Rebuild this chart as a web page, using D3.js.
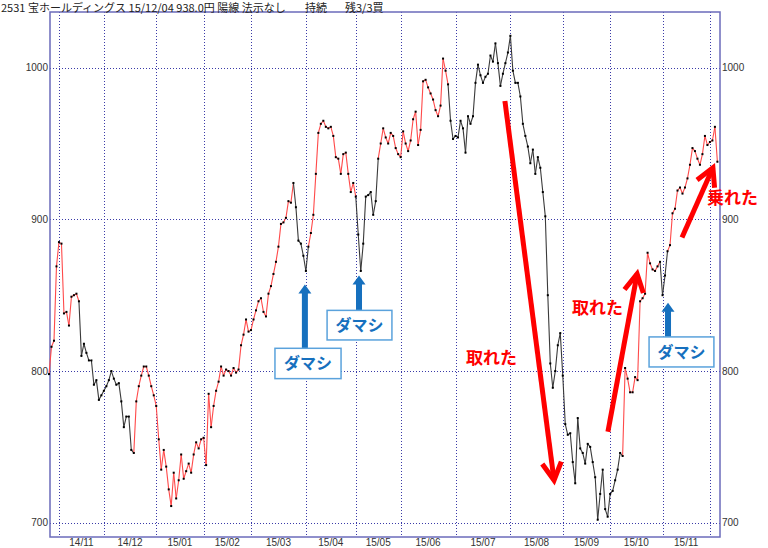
<!DOCTYPE html>
<html>
<head>
<meta charset="utf-8">
<script src="https://cdn.jsdelivr.net/npm/d3@7"></script>
<style>
  html, body { margin: 0; padding: 0; background: #fff; }
  svg { display: block; }
</style>
</head>
<body>
<svg id="chart" width="768" height="548"></svg>
<script>
// ---- Data (daily closes, 2014/10/28 .. 2015/12/04) ----
const closes = [
  798, 816, 820, 869, 885, 884, 838, 839, 830, 849,
  850, 851, 846, 810, 818, 812, 807, 807, 791, 794,
  781, 784, 787, 790, 794, 800, 795, 791, 792, 780,
  763, 770, 770, 748, 746, 780, 790, 797, 803, 803,
  797, 790, 784, 777, 755, 735, 748, 737, 722, 711,
  733, 716, 728, 745, 729, 734, 739, 733, 745, 753,
  749, 755, 756, 738, 785, 763, 777, 787, 793, 803,
  797, 801, 800, 797, 802, 799, 801, 817, 824, 834,
  826, 827, 834, 840, 846, 848, 839, 836, 851, 856,
  864, 872, 882, 897, 898, 901, 912, 911, 924, 908,
  886, 884, 876, 866, 882, 891, 903, 930, 957, 963,
  965, 961, 960, 961, 955, 941, 940, 930, 943, 944,
  930, 918, 924, 915, 890, 866, 884, 915, 916, 918,
  903, 912, 940, 950, 960, 954, 950, 957, 955, 947,
  943, 941, 958, 950, 945, 952, 966, 971, 949, 959,
  991, 992, 987, 983, 979, 972, 968, 975, 1006, 998,
  989, 965, 953, 955, 954, 965, 960, 944, 968, 963,
  968, 990, 1002, 995, 990, 994, 996, 1008, 1004, 1016,
  1003, 988, 996, 1003, 1010, 1021, 998, 990, 990, 981,
  963, 955, 948, 937, 946, 930, 941, 934, 918, 902,
  850, 805, 789, 800, 817, 825, 797, 765, 758, 759,
  740, 726, 769, 749, 746, 739, 752, 750, 740, 730,
  702, 719, 735, 709, 704, 719, 721, 728, 735, 746,
  744, 802, 795, 786, 786, 796, 794, 846, 848, 851,
  878, 871, 867, 866, 869, 872, 850, 863, 879, 883,
  904, 907, 919, 921, 917, 921, 927, 936, 947, 945,
  940, 936, 943, 955, 949, 951, 952, 961, 938
];
// index of first trading day of each month (gridlines)
const monthStarts = [4, 22, 43, 62, 81, 103, 123, 141, 163, 185, 206, 225, 246, 265];
const monthLabels = ["14/11","14/12","15/01","15/02","15/03","15/04","15/05","15/06","15/07","15/08","15/09","15/10","15/11"];
const yTicks = [700, 800, 900, 1000];
// trend regimes: start index of each regime and whether it is an up (red) regime
const regimeStarts = [0, 12, 34, 98, 104, 123, 132, 160, 230, 245, 248];
const regimeUp     = [true, false, true, false, true, false, true, false, true, false, true];

// annotations (data coordinates: index, price)
const damashiArrows = [
  { i: 102.6, tip: 857, base: 815, box: [90.6, 117.1, 815, 795] },
  { i: 124.3, tip: 863, base: 840, box: [111.5, 137.5, 840, 820.5] },
  { i: 248.2, tip: 845, base: 822.5, box: [240.6, 266.6, 822.5, 802.7] }
];
const redArrows = [
  { i0: 182.8, v0: 978, i1: 202.5, v1: 728 },
  { i0: 224.1, v0: 760, i1: 235.8, v1: 864 },
  { i0: 253.8, v0: 888, i1: 266.2, v1: 934 }
];
const redLabels = [
  { text: "取れた", i: 167.2, v: 809 },
  { text: "取れた", i: 209.7, v: 841.5 },
  { text: "乗れた", i: 263.8, v: 914 }
];
const titleParts = [
  { text: "2531 宝ホールディングス 15/12/04 938.0円 陽線 法示なし", x: 1 },
  { text: "持続", x: 305 },
  { text: "残3/3買", x: 345 }
];

// ---- Layout ----
const plot = { left: 50, right: 720, top: 12, bottom: 537 };
const svg = d3.select("#chart");

const x = d3.scaleLinear().domain([0, closes.length - 1]).range([49, 717.4]);
const y = d3.scaleLinear().domain([690.6, 1036.7]).range([plot.bottom, plot.top]);

const gridColor = "#3a3aa8";

// horizontal gridlines
svg.append("g").selectAll("line").data(yTicks).join("line")
  .attr("x1", plot.left).attr("x2", plot.right)
  .attr("y1", d => Math.round(y(d)) + 0.5).attr("y2", d => Math.round(y(d)) + 0.5)
  .attr("stroke", gridColor).attr("stroke-width", 1).attr("stroke-dasharray", "1,2");

// vertical gridlines
svg.append("g").selectAll("line").data(monthStarts).join("line")
  .attr("x1", d => Math.round(x(d)) + 0.5).attr("x2", d => Math.round(x(d)) + 0.5)
  .attr("y1", plot.top).attr("y2", plot.bottom)
  .attr("stroke", gridColor).attr("stroke-width", 1).attr("stroke-dasharray", "1,2");

// frame
svg.append("rect")
  .attr("x", plot.left).attr("y", plot.top)
  .attr("width", plot.right - plot.left).attr("height", plot.bottom - plot.top)
  .attr("fill", "none").attr("stroke", "#6b6bbb").attr("stroke-width", 1.5);

// y labels both sides
const axisFont = "'Liberation Sans', Arial, sans-serif";
svg.append("g").selectAll("text").data(yTicks).join("text")
  .attr("x", 48).attr("y", d => y(d)).attr("dy", "0.35em")
  .attr("text-anchor", "end").attr("font-family", axisFont).attr("font-size", 10)
  .attr("fill", "#333").text(d => d);
svg.append("g").selectAll("text").data(yTicks).join("text")
  .attr("x", 722).attr("y", d => y(d)).attr("dy", "0.35em")
  .attr("text-anchor", "start").attr("font-family", axisFont).attr("font-size", 10)
  .attr("fill", "#333").text(d => d);

// month labels centred between gridlines
svg.append("g").selectAll("text").data(monthLabels).join("text")
  .attr("x", (d, k) => (x(monthStarts[k]) + x(monthStarts[k + 1])) / 2)
  .attr("y", 546).attr("text-anchor", "middle")
  .attr("font-family", axisFont).attr("font-size", 10).attr("fill", "#333")
  .text(d => d);

// title
svg.append("g").selectAll("text").data(titleParts).join("text")
  .attr("x", d => d.x).attr("y", 12)
  .attr("font-family", "'Noto Sans CJK JP', sans-serif").attr("font-size", 11)
  .attr("fill", "#222").text(d => d.text);

// price line segments colored by regime
function regimeOf(i) {
  let k = 0;
  for (let r = 0; r < regimeStarts.length; r++) if (regimeStarts[r] <= i) k = r;
  return regimeUp[k];
}
const segs = d3.range(1, closes.length).map(i => ({ a: i - 1, b: i, up: regimeOf(i - 1) }));
svg.append("g").selectAll("line").data(segs).join("line")
  .attr("x1", d => x(d.a)).attr("y1", d => y(closes[d.a]))
  .attr("x2", d => x(d.b)).attr("y2", d => y(closes[d.b]))
  .attr("stroke", d => d.up ? "#ff4a4a" : "#3a3a3a")
  .attr("stroke-width", 1.1).attr("stroke-linecap", "round");

// dots
svg.append("g").selectAll("rect").data(closes).join("rect")
  .attr("x", (d, i) => x(i) - 1).attr("y", d => y(d) - 1)
  .attr("width", 2).attr("height", 2).attr("fill", "#000");

// red arrows
const red = "#ff0000";
const ra = svg.append("g");
redArrows.forEach(a => {
  const x0 = x(a.i0), y0 = y(a.v0), x1 = x(a.i1), y1 = y(a.v1);
  const ang = Math.atan2(y1 - y0, x1 - x0);
  const len = 20, spread = 0.5;
  ra.append("line").attr("x1", x0).attr("y1", y0).attr("x2", x1).attr("y2", y1)
    .attr("stroke", red).attr("stroke-width", 5);
  const pts = [
    [x1 - len * Math.cos(ang - spread), y1 - len * Math.sin(ang - spread)],
    [x1, y1],
    [x1 - len * Math.cos(ang + spread), y1 - len * Math.sin(ang + spread)]
  ];
  ra.append("path").attr("d", d3.line()(pts))
    .attr("fill", "none").attr("stroke", red).attr("stroke-width", 5)
    .attr("stroke-linejoin", "miter");
});

// red labels
svg.append("g").selectAll("text").data(redLabels).join("text")
  .attr("x", d => x(d.i)).attr("y", d => y(d.v)).attr("dy", "0.36em")
  .attr("font-family", "'Noto Sans CJK JP', sans-serif").attr("font-weight", 700)
  .attr("font-size", 17).attr("fill", red).text(d => d.text);

// blue "ダマシ" arrows + boxes
const blue = "#1670be";
const ba = svg.append("g");
damashiArrows.forEach(a => {
  const cx = x(a.i), tipY = y(a.tip), baseY = y(a.base);
  const headH = 9, headW = 13, shaftW = 6;
  ba.append("rect").attr("x", cx - shaftW / 2).attr("y", tipY + headH - 1)
    .attr("width", shaftW).attr("height", baseY - tipY - headH + 1).attr("fill", blue);
  ba.append("path")
    .attr("d", d3.line()([[cx - headW / 2, tipY + headH], [cx, tipY], [cx + headW / 2, tipY + headH]]) + "Z")
    .attr("fill", blue);
  const bx0 = x(a.box[0]), bx1 = x(a.box[1]), by0 = y(a.box[2]), by1 = y(a.box[3]);
  ba.append("rect").attr("x", bx0).attr("y", by0)
    .attr("width", bx1 - bx0).attr("height", by1 - by0)
    .attr("fill", "#fff").attr("stroke", "#5aa2dc").attr("stroke-width", 1.5);
  ba.append("text").attr("x", (bx0 + bx1) / 2).attr("y", (by0 + by1) / 2).attr("dy", "0.36em")
    .attr("text-anchor", "middle")
    .attr("font-family", "'Noto Sans CJK JP', sans-serif").attr("font-weight", 700)
    .attr("font-size", 16).attr("fill", blue).text("ダマシ");
});
</script>
</body>
</html>
